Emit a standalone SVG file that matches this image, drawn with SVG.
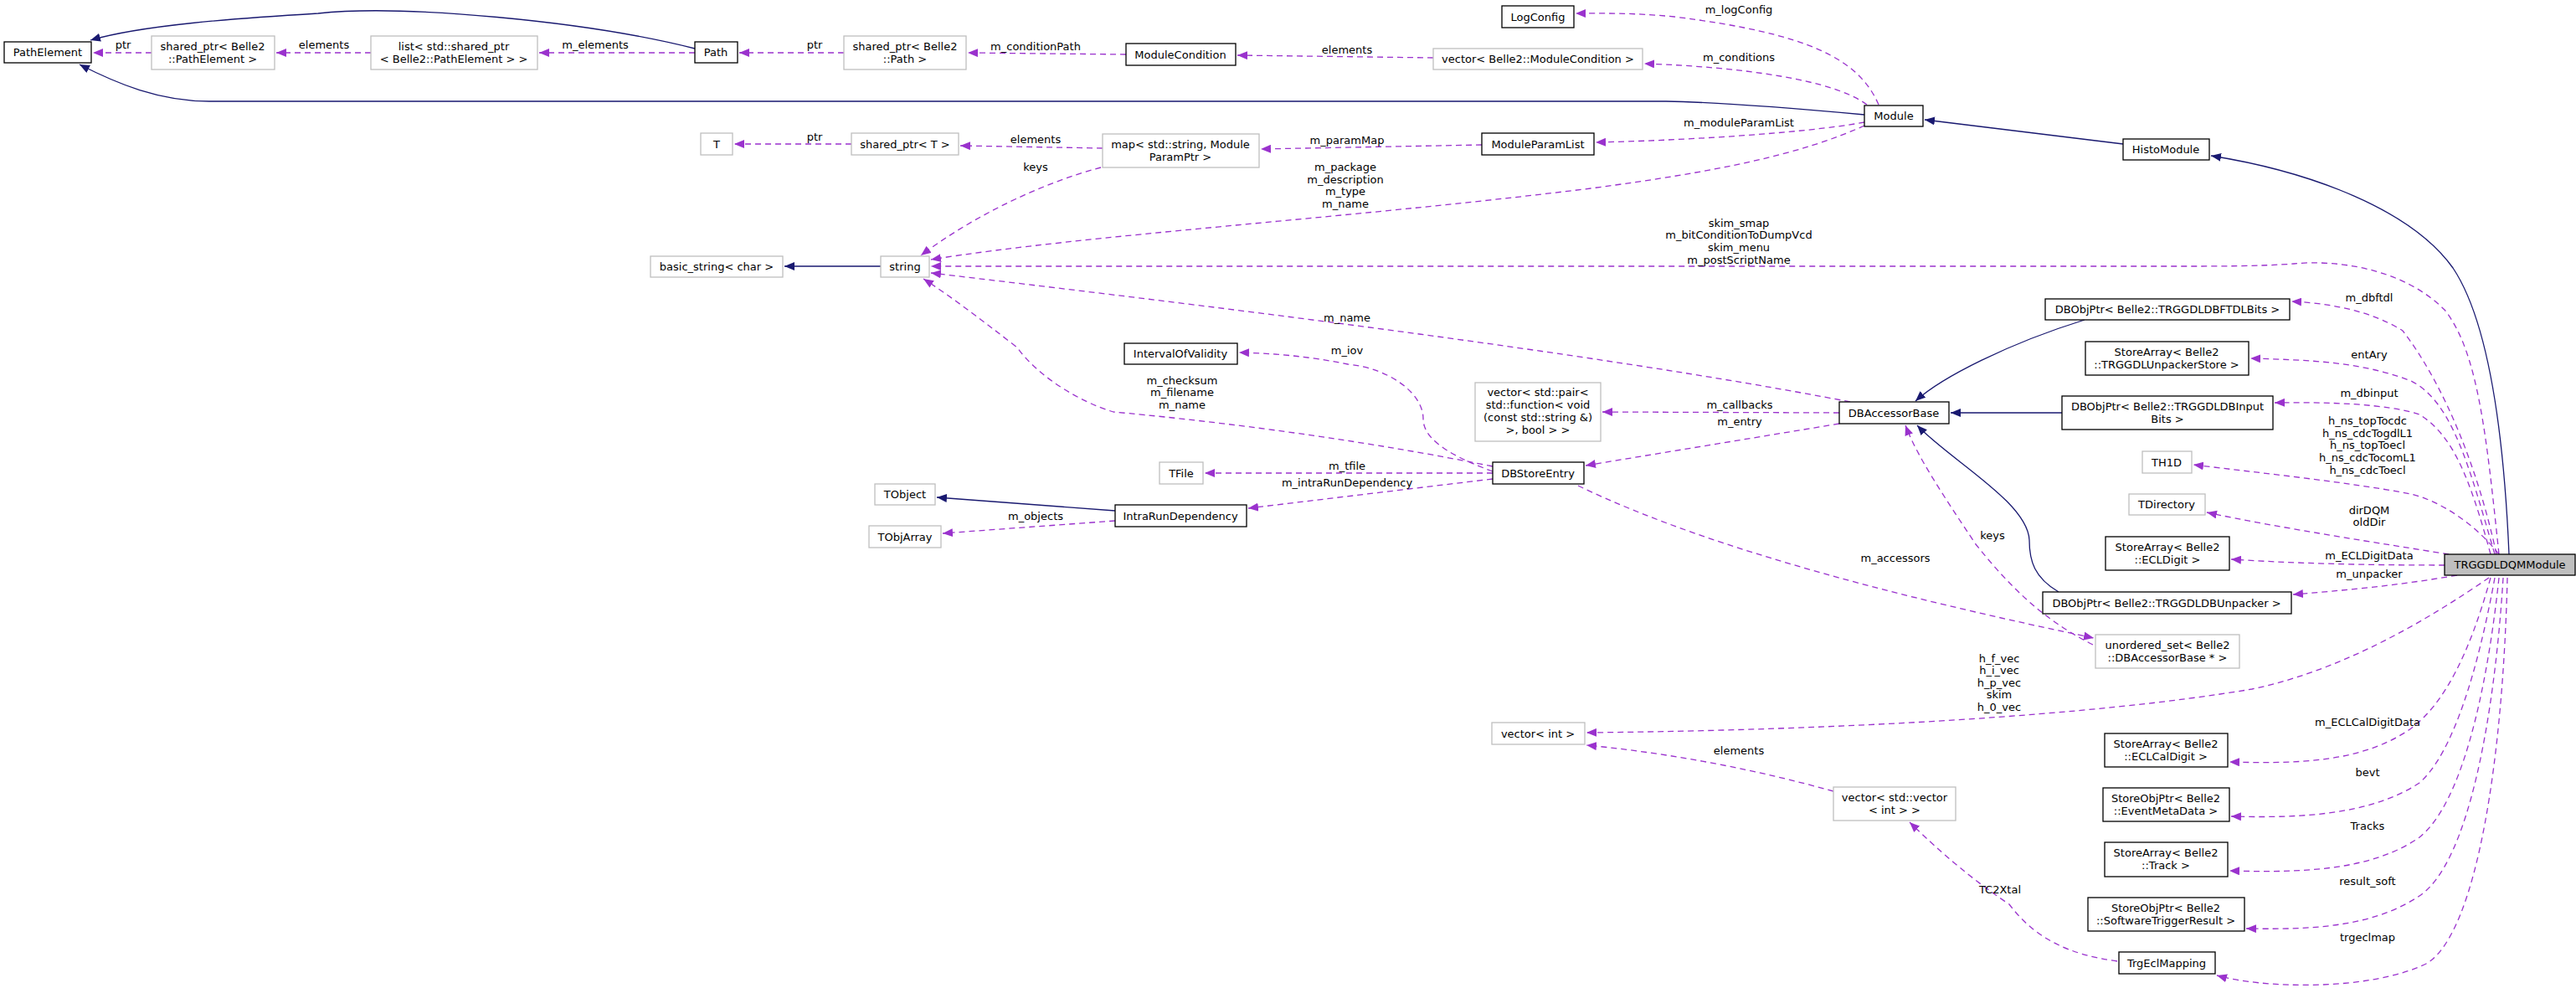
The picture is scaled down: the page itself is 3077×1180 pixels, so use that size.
<svg xmlns="http://www.w3.org/2000/svg" width="3077" height="1180" viewBox="0 0 3077 1180">
<style>
text{font-family:"DejaVu Sans","Liberation Sans",sans-serif;font-size:13px;fill:#000;text-anchor:middle}
.n rect{fill:#fff;stroke:#000;stroke-width:1.3}
.u rect{fill:#fff;stroke:#bfbfbf;stroke-width:1.3}
.cur rect{fill:#bfbfbf;stroke:#000;stroke-width:1.3}
.d{fill:none;stroke:#9a32cd;stroke-width:1.3;stroke-dasharray:7,5;marker-end:url(#ap)}
.s{fill:none;stroke:#191970;stroke-width:1.3;marker-end:url(#ab)}
</style>
<defs>
<marker id="ap" markerUnits="userSpaceOnUse" markerWidth="12" markerHeight="10" refX="12" refY="5" orient="auto"><path d="M0,0 L12,5 L0,10 z" fill="#9a32cd"/></marker>
<marker id="ab" markerUnits="userSpaceOnUse" markerWidth="12" markerHeight="10" refX="12" refY="5" orient="auto"><path d="M0,0 L12,5 L0,10 z" fill="#191970"/></marker>
</defs>
<rect width="3077" height="1180" fill="#fff"/>
<g id="connectors">
<path class="s" d="M830,58 C700,25 480,5 380,16 C280,22 170,30 108,48"/>
<path class="s" d="M2227,137 C2150,130 2050,122 1990,121 L250,121 C190,121 140,100 95,77"/>
<path class="s" d="M2536,172 L2299,143"/>
<path class="s" d="M2997,662 C2990,500 2970,380 2930,320 C2880,250 2760,205 2641,186"/>
<path class="s" d="M1052,318 L937,318"/>
<path class="s" d="M1332,610 L1119,594"/>
<path class="s" d="M2490,382 C2400,410 2320,450 2288,479"/>
<path class="s" d="M2463,493 L2330,493"/>
<path class="s" d="M2459,707 C2430,690 2424,670 2424,645 C2422,600 2330,550 2290,508"/>

<path class="d" d="M181,63 L111,63"/><text x="147" y="58">ptr</text>
<path class="d" d="M443,63 L330,63"/><text x="387" y="58">elements</text>
<path class="d" d="M830,63 L644,63"/><text x="711" y="58">m_elements</text>
<path class="d" d="M1008,63 L883,63"/><text x="973" y="58">ptr</text>
<path class="d" d="M1345,65 L1156,63"/><text x="1237" y="60">m_conditionPath</text>
<path class="d" d="M1712,69 L1478,66"/><text x="1609" y="64">elements</text>
<path class="d" d="M2244,125 C2220,70 2160,40 2000,20 C1950,15 1910,16 1882,16"/><text x="2077" y="16">m_logConfig</text>
<path class="d" d="M2230,125 C2190,95 2080,80 1964,76"/><text x="2077" y="73">m_conditions</text>
<path class="d" d="M2227,146 C2150,160 2000,168 1906,170"/><text x="2077" y="151">m_moduleParamList</text>
<path class="d" d="M1770,173 L1506,178"/><text x="1609" y="172">m_paramMap</text>
<path class="d" d="M1317,177 L1147,174"/><text x="1237" y="171">elements</text>
<path class="d" d="M1017,172 L877,172"/><text x="973" y="168">ptr</text>
<path class="d" d="M1315,200 C1240,220 1160,260 1100,305"/><text x="1237" y="204">keys</text>
<path class="d" d="M2227,150 C2150,185 2050,205 1900,225 C1600,262 1300,280 1112,310"/>
<text x="1607" y="204">m_package</text><text x="1607" y="219">m_description</text><text x="1607" y="233">m_type</text><text x="1607" y="248">m_name</text>
<path class="d" d="M2985,662 C2970,520 2960,420 2920,370 C2870,320 2790,310 2740,315 C2700,318 2650,318 2600,318 L1112,318"/>
<text x="2077" y="271">skim_smap</text><text x="2077" y="285">m_bitConditionToDumpVcd</text><text x="2077" y="300">skim_menu</text><text x="2077" y="315">m_postScriptName</text>
<path class="d" d="M2210,480 C1900,420 1400,360 1112,326"/><text x="1609" y="384">m_name</text>
<path class="d" d="M1783,557 C1600,520 1420,500 1330,492 C1290,480 1240,450 1215,415 C1170,380 1130,350 1103,333"/>
<text x="1412" y="459">m_checksum</text><text x="1412" y="473">m_filename</text><text x="1412" y="488">m_name</text>
<path class="d" d="M1783,563 C1720,540 1700,520 1700,500 C1700,470 1660,440 1610,435 C1560,425 1520,422 1480,421"/><text x="1609" y="423">m_iov</text>
<path class="d" d="M2197,493 L1914,492"/><text x="2078" y="488">m_callbacks</text>
<path class="d" d="M2197,506 L1894,556"/><text x="2078" y="508">m_entry</text>
<path class="d" d="M1783,565 L1439,565"/><text x="1609" y="561">m_tfile</text>
<path class="d" d="M1783,572 L1491,607"/><text x="1609" y="581">m_intraRunDependency</text>
<path class="d" d="M1332,622 L1126,637"/><text x="1237" y="621">m_objects</text>
<path class="d" d="M2500,770 C2440,740 2400,700 2360,650 C2320,590 2290,545 2276,508"/><text x="2380" y="644">keys</text>
<path class="d" d="M1885,580 C2050,660 2300,720 2501,762"/><text x="2264" y="671">m_accessors</text>
<path class="d" d="M2982,662 C2960,560 2920,460 2870,395 C2830,370 2780,362 2737,360"/><text x="2830" y="360">m_dbftdl</text>
<path class="d" d="M2980,662 C2950,560 2930,480 2880,455 C2820,432 2760,430 2688,428"/><text x="2830" y="428">entAry</text>
<path class="d" d="M2975,662 C2950,570 2930,520 2890,495 C2850,482 2780,480 2717,481"/><text x="2830" y="474">m_dbinput</text>
<path class="d" d="M2985,662 C2960,630 2920,600 2880,590 C2800,575 2700,565 2620,555"/>
<text x="2828" y="507">h_ns_topTocdc</text><text x="2828" y="522">h_ns_cdcTogdlL1</text><text x="2828" y="536">h_ns_topToecl</text><text x="2828" y="551">h_ns_cdcTocomL1</text><text x="2828" y="566">h_ns_cdcToecl</text>
<path class="d" d="M2925,662 C2850,650 2720,630 2636,612"/><text x="2830" y="614">dirDQM</text><text x="2830" y="628">oldDir</text>
<path class="d" d="M2920,675 C2850,675 2760,674 2665,668"/><text x="2830" y="668">m_ECLDigitData</text>
<path class="d" d="M2935,687 C2860,700 2800,705 2739,710"/><text x="2830" y="690">m_unpacker</text>
<path class="d" d="M2973,690 C2900,740 2800,800 2690,823 C2500,855 2200,872 1895,875"/>
<text x="2388" y="791">h_f_vec</text><text x="2388" y="805">h_i_vec</text><text x="2388" y="820">h_p_vec</text><text x="2388" y="834">skim</text><text x="2388" y="849">h_0_vec</text>
<path class="d" d="M2190,945 C2100,920 2000,900 1895,890"/><text x="2077" y="901">elements</text>
<path class="d" d="M2529,1148 C2470,1140 2430,1120 2400,1080 C2340,1040 2300,1000 2281,982"/><text x="2389" y="1067">TC2Xtal</text>
<path class="d" d="M2975,690 C2950,780 2920,840 2880,870 C2820,912 2740,912 2663,910"/><text x="2828" y="867">m_ECLCalDigitData</text>
<path class="d" d="M2980,690 C2960,800 2930,900 2890,935 C2830,975 2740,977 2665,975"/><text x="2828" y="927">bevt</text>
<path class="d" d="M2985,690 C2970,830 2940,960 2890,1000 C2830,1042 2740,1042 2663,1040"/><text x="2828" y="991">Tracks</text>
<path class="d" d="M2990,690 C2980,850 2950,1030 2890,1070 C2830,1110 2750,1110 2683,1109"/><text x="2828" y="1057">result_soft</text>
<path class="d" d="M2995,690 C2990,900 2960,1110 2900,1150 C2830,1185 2700,1180 2648,1165"/><text x="2828" y="1124">trgeclmap</text>
</g>
<g id="PathElement" class="n"><rect x="5" y="50" width="104" height="25"/><text x="57" y="67">PathElement</text></g>
<g id="SharedPtrPathElement" class="u"><rect x="181" y="43" width="147" height="40"/><text x="254" y="60">shared_ptr&lt; Belle2</text><text x="254" y="75">::PathElement &gt;</text></g>
<g id="ListSharedPtr" class="u"><rect x="443" y="43" width="199" height="40"/><text x="542" y="60">list&lt; std::shared_ptr</text><text x="542" y="75">&lt; Belle2::PathElement &gt; &gt;</text></g>
<g id="Path" class="n"><rect x="830" y="50" width="51" height="25"/><text x="855" y="67">Path</text></g>
<g id="SharedPtrPath" class="u"><rect x="1008" y="43" width="146" height="40"/><text x="1081" y="60">shared_ptr&lt; Belle2</text><text x="1081" y="75">::Path &gt;</text></g>
<g id="ModuleCondition" class="n"><rect x="1345" y="52" width="131" height="26"/><text x="1410" y="70">ModuleCondition</text></g>
<g id="VectorModuleCondition" class="u"><rect x="1712" y="58" width="250" height="25"/><text x="1837" y="75">vector&lt; Belle2::ModuleCondition &gt;</text></g>
<g id="LogConfig" class="n"><rect x="1794" y="7" width="86" height="26"/><text x="1837" y="25">LogConfig</text></g>
<g id="Module" class="n"><rect x="2227" y="126" width="70" height="25"/><text x="2262" y="143">Module</text></g>
<g id="HistoModule" class="n"><rect x="2536" y="166" width="103" height="25"/><text x="2587" y="183">HistoModule</text></g>
<g id="T" class="u"><rect x="837" y="159" width="38" height="26"/><text x="856" y="177">T</text></g>
<g id="SharedPtrT" class="u"><rect x="1017" y="159" width="128" height="26"/><text x="1081" y="177">shared_ptr&lt; T &gt;</text></g>
<g id="MapParam" class="u"><rect x="1317" y="160" width="187" height="40"/><text x="1410" y="177">map&lt; std::string, Module</text><text x="1410" y="192">ParamPtr &gt;</text></g>
<g id="ModuleParamList" class="n"><rect x="1770" y="159" width="134" height="26"/><text x="1837" y="177">ModuleParamList</text></g>
<g id="BasicString" class="u"><rect x="777" y="306" width="158" height="25"/><text x="856" y="323">basic_string&lt; char &gt;</text></g>
<g id="String" class="u"><rect x="1052" y="306" width="58" height="25"/><text x="1081" y="323">string</text></g>
<g id="IntervalOfValidity" class="n"><rect x="1343" y="410" width="135" height="25"/><text x="1410" y="427">IntervalOfValidity</text></g>
<g id="VectorPair" class="u"><rect x="1762" y="457" width="150" height="70"/><text x="1837" y="473">vector&lt; std::pair&lt;</text><text x="1837" y="488">std::function&lt; void</text><text x="1837" y="503">(const std::string &amp;)</text><text x="1837" y="518">&gt;, bool &gt; &gt;</text></g>
<g id="DBAccessorBase" class="n"><rect x="2197" y="480" width="131" height="26"/><text x="2262" y="498">DBAccessorBase</text></g>
<g id="TFile" class="u"><rect x="1385" y="552" width="52" height="26"/><text x="1411" y="570">TFile</text></g>
<g id="DBStoreEntry" class="n"><rect x="1783" y="552" width="109" height="26"/><text x="1837" y="570">DBStoreEntry</text></g>
<g id="TObject" class="u"><rect x="1045" y="578" width="72" height="25"/><text x="1081" y="595">TObject</text></g>
<g id="IntraRunDependency" class="n"><rect x="1332" y="603" width="157" height="26"/><text x="1410" y="621">IntraRunDependency</text></g>
<g id="TObjArray" class="u"><rect x="1038" y="628" width="86" height="26"/><text x="1081" y="646">TObjArray</text></g>
<g id="FTDLBits" class="n"><rect x="2443" y="357" width="292" height="25"/><text x="2589" y="374">DBObjPtr&lt; Belle2::TRGGDLDBFTDLBits &gt;</text></g>
<g id="UnpackerStore" class="n"><rect x="2491" y="408" width="195" height="40"/><text x="2588" y="425">StoreArray&lt; Belle2</text><text x="2588" y="440">::TRGGDLUnpackerStore &gt;</text></g>
<g id="InputBits" class="n"><rect x="2463" y="473" width="252" height="40"/><text x="2589" y="490">DBObjPtr&lt; Belle2::TRGGDLDBInput</text><text x="2589" y="505">Bits &gt;</text></g>
<g id="TH1D" class="u"><rect x="2559" y="539" width="59" height="26"/><text x="2588" y="557">TH1D</text></g>
<g id="TDirectory" class="u"><rect x="2543" y="590" width="91" height="25"/><text x="2588" y="607">TDirectory</text></g>
<g id="ECLDigit" class="n"><rect x="2515" y="641" width="148" height="40"/><text x="2589" y="658">StoreArray&lt; Belle2</text><text x="2589" y="673">::ECLDigit &gt;</text></g>
<g id="TRGGDLDQMModule" class="cur"><rect x="2920" y="662" width="156" height="25"/><text x="2998" y="679">TRGGDLDQMModule</text></g>
<g id="Unpacker" class="n"><rect x="2440" y="707" width="297" height="26"/><text x="2588" y="725">DBObjPtr&lt; Belle2::TRGGDLDBUnpacker &gt;</text></g>
<g id="UnorderedSet" class="u"><rect x="2503" y="758" width="172" height="40"/><text x="2589" y="775">unordered_set&lt; Belle2</text><text x="2589" y="790">::DBAccessorBase * &gt;</text></g>
<g id="VectorInt" class="u"><rect x="1782" y="863" width="111" height="26"/><text x="1837" y="881">vector&lt; int &gt;</text></g>
<g id="VectorVectorInt" class="u"><rect x="2190" y="940" width="146" height="40"/><text x="2263" y="957">vector&lt; std::vector</text><text x="2263" y="972">&lt; int &gt; &gt;</text></g>
<g id="ECLCalDigit" class="n"><rect x="2514" y="876" width="147" height="40"/><text x="2587" y="893">StoreArray&lt; Belle2</text><text x="2587" y="908">::ECLCalDigit &gt;</text></g>
<g id="EventMetaData" class="n"><rect x="2512" y="941" width="151" height="40"/><text x="2587" y="958">StoreObjPtr&lt; Belle2</text><text x="2587" y="973">::EventMetaData &gt;</text></g>
<g id="Track" class="n"><rect x="2514" y="1006" width="147" height="41"/><text x="2587" y="1023">StoreArray&lt; Belle2</text><text x="2587" y="1038">::Track &gt;</text></g>
<g id="SoftwareTriggerResult" class="n"><rect x="2494" y="1072" width="187" height="40"/><text x="2587" y="1089">StoreObjPtr&lt; Belle2</text><text x="2587" y="1104">::SoftwareTriggerResult &gt;</text></g>
<g id="TrgEclMapping" class="n"><rect x="2531" y="1137" width="115" height="26"/><text x="2588" y="1155">TrgEclMapping</text></g>
</svg>
